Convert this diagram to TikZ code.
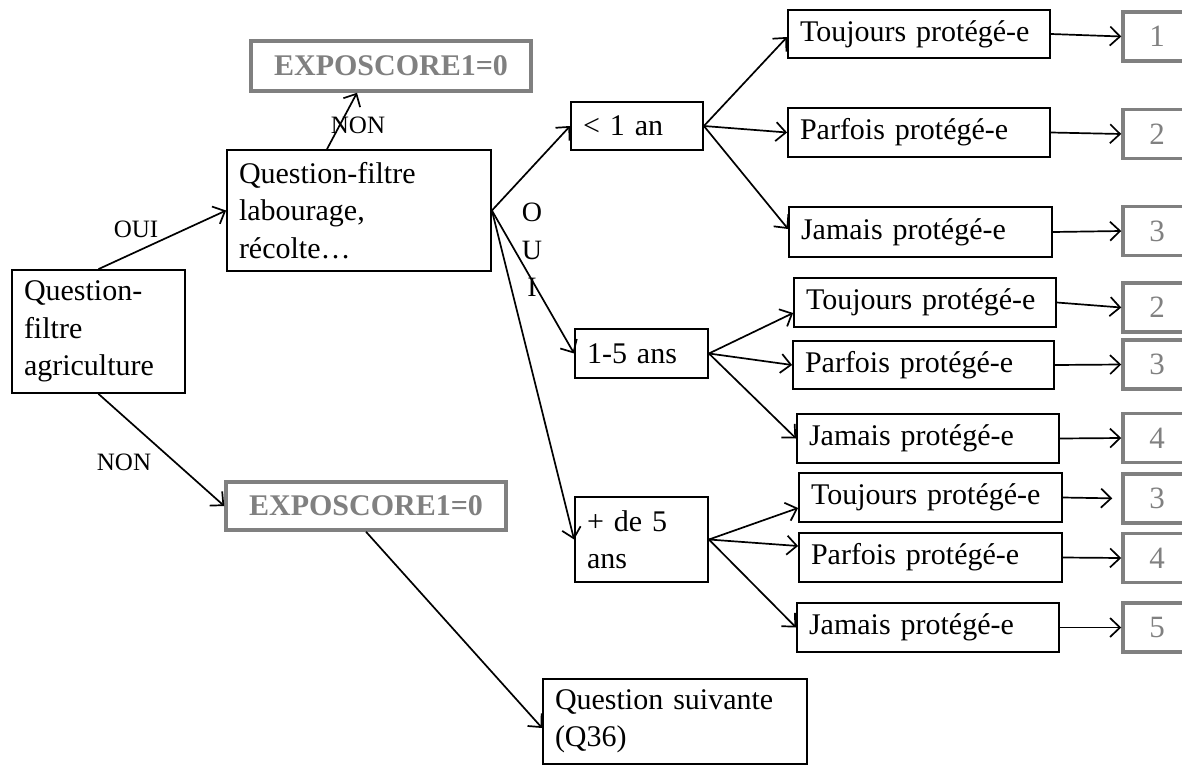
\documentclass[tikz,border=0pt]{standalone}
\usepackage{fontspec}
\setmainfont{Liberation Serif}
\usetikzlibrary{arrows.meta}
\definecolor{scoregray}{RGB}{128,128,128}
\begin{document}
\begin{tikzpicture}[x=1pt,y=-1pt,
  box/.style={draw=black, line width=1.8pt, rectangle, inner xsep=12pt, inner ysep=0pt,
    align=left, font=\fontsize{30}{37.5}\selectfont, text=black},
  leaf/.style={box, text width=#1-26pt, minimum height=49pt},
  gbox/.style={draw=scoregray, line width=3.5pt, text=scoregray, inner sep=0pt,
    font=\fontsize{30}{36}\selectfont\bfseries, minimum width=280pt},
  sbox/.style={draw=scoregray, line width=3.5pt, text=scoregray, inner sep=0pt,
    font=\fontsize{31}{36}\selectfont, minimum width=68pt, minimum height=49pt},
  lbl/.style={font=\fontsize{25}{30}\selectfont, inner sep=0pt},
  arr/.style={line width=1.7pt, -{Straight Barb[length=10pt,width=19pt,line width=1.7pt]}}
]
\useasboundingbox (0,0) rectangle (1182,776);

% main nodes
\node[box, text width=149pt, minimum height=123pt] (q1) at (98.5,331.5) {Question-\\filtre\\agriculture};
\node[box, text width=240pt, minimum height=121pt] (q2) at (359,210.5) {Question-filtre\\labourage,\\récolte…};
\node[gbox, minimum height=50pt] (e1) at (391,66) {EXPOSCORE1=0};
\node[gbox, minimum height=48pt] (e2) at (366,506) {EXPOSCORE1=0};
\node[box, text width=240pt, minimum height=85pt] (q3) at (675,721.5) {Question suivante\\(Q36)};

% durations
\node[box, text width=108pt, minimum height=48pt] (a1) at (637,126) {< 1 an};
\node[box, text width=109pt, minimum height=49pt] (a2) at (641.5,353.5) {1-5 ans};
\node[box, text width=109pt, minimum height=85pt] (a3) at (641.5,539.5) {+ de 5\\ans};

% leaves
\node[leaf=264pt, minimum height=48pt] (t1) at (919,34) {Toujours protégé-e};
\node[leaf=264pt] (p1) at (919,132.5) {Parfois protégé-e};
\node[leaf=265pt, minimum height=50pt] (j1) at (920.5,232) {Jamais protégé-e};
\node[leaf=264pt] (t2) at (925,302.5) {Toujours protégé-e};
\node[leaf=263pt, minimum height=48pt] (p2) at (923.5,365) {Parfois protégé-e};
\node[leaf=264pt] (j2) at (928,438.5) {Jamais protégé-e};
\node[leaf=265pt] (t3) at (930.5,497.5) {Toujours protégé-e};
\node[leaf=265pt] (p3) at (930.5,557.5) {Parfois protégé-e};
\node[leaf=264pt] (j3) at (928,627.5) {Jamais protégé-e};

% scores
\node[sbox] (s1) at (1157,36.5) {1};
\node[sbox] (s2) at (1157,134) {2};
\node[sbox] (s3) at (1157,231) {3};
\node[sbox] (s4) at (1157,307.5) {2};
\node[sbox] (s5) at (1157,364.5) {3};
\node[sbox] (s6) at (1157,438) {4};
\node[sbox] (s7) at (1157,498.5) {3};
\node[sbox] (s8) at (1157,558) {4};
\node[sbox] (s9) at (1157,627.5) {5};

% labels
\node[lbl] (louia) at (136,229) {OUI};
\node[lbl] (lnona) at (358,125) {NON};
\node[lbl] (lnonb) at (124,462) {NON};
\node[font=\fontsize{28}{37.5}\selectfont, align=center, inner sep=0pt] (louib) at (532,250) {O\\U\\I};

% connectors
\draw[arr] (q1.north) -- (q2.west);
\draw[arr] ([xshift=-32pt]q2.north) -- ([xshift=-34pt]e1.south);
\draw[arr] (q1.south) -- (e2.west);
\draw[arr] (e2.south) -- ([yshift=-6.5pt]q3.west);

\draw[arr] (q2.east) -- (a1.west);
\draw[arr] (q2.east) -- (a2.west);
\draw[arr] (q2.east) -- (a3.west);

\draw[arr] (a1.east) -- ([yshift=-3pt]t1.west);
\draw[arr] (a1.east) -- (p1.west);
\draw[arr] (a1.east) -- ([yshift=3pt]j1.west);
\draw[arr] (a2.east) -- ([yshift=-10.5pt]t2.west);
\draw[arr] (a2.east) -- (p2.west);
\draw[arr] (a2.east) -- (j2.west);
\draw[arr] (a3.east) -- ([yshift=-10.5pt]t3.west);
\draw[arr] (a3.east) -- ([yshift=11.5pt]p3.west);
\draw[arr] (a3.east) -- (j3.west);

\draw[arr] (t1.east) -- (s1.west);
\draw[arr] (p1.east) -- (s2.west);
\draw[arr] (j1.east) -- (s3.west);
\draw[arr] (t2.east) -- (s4.west);
\draw[arr] (p2.east) -- (s5.west);
\draw[arr] (j2.east) -- (s6.west);
\draw[arr, shorten >=9pt] (t3.east) -- (s7.west);
\draw[arr] (p3.east) -- (s8.west);
\draw[arr] (j3.east) -- (s9.west);
\end{tikzpicture}
\end{document}
